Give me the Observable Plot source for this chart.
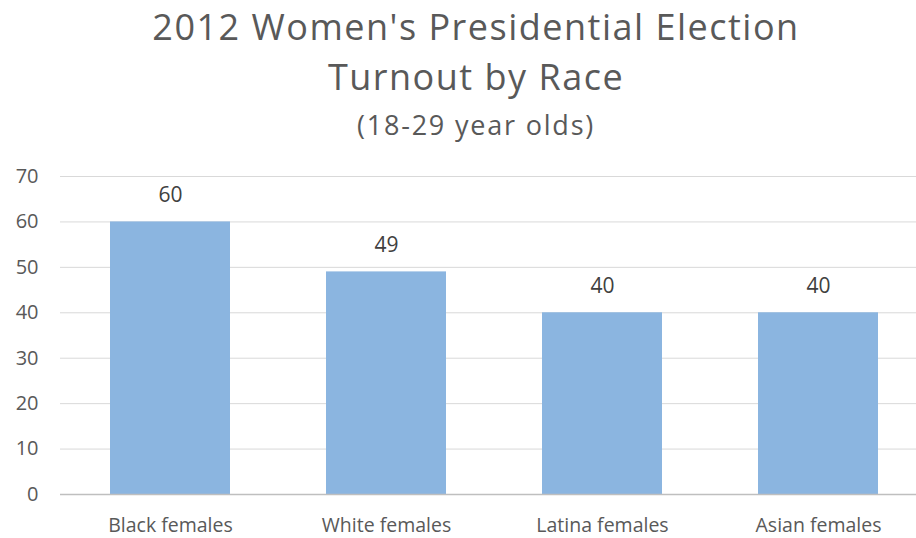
<!DOCTYPE html>
<html>
<head>
<meta charset="utf-8">
<script src="https://cdn.jsdelivr.net/npm/d3@7"></script>
<script src="https://cdn.jsdelivr.net/npm/@observablehq/plot@0.6"></script>
<style>
  html, body { margin: 0; padding: 0; background: #fff; }
  body { width: 916px; height: 538px; overflow: hidden; font-family: "Open Sans", sans-serif; }
  #title { text-align: center; color: #595959; font-size: 36px; line-height: 50px; padding-top: 2px; padding-left: 36px; letter-spacing: 1.5px; }
  #subtitle { text-align: center; color: #595959; font-size: 27px; line-height: 46px; margin-top: 0px; padding-left: 36px; letter-spacing: 1.8px; }
  #chart { position: absolute; top: 155px; left: 0; }
</style>
</head>
<body>
<div id="title">2012 Women's Presidential Election<br>Turnout by Race</div>
<div id="subtitle">(18-29 year olds)</div>
<div id="chart"></div>
<script>
const categories = ["Black females", "White females", "Latina females", "Asian females"];
const turnout = [60, 49, 40, 40];
const yTicks = [0, 10, 20, 30, 40, 50, 60, 70];

const data = categories.map((c, i) => ({category: c, value: turnout[i]}));

const chart = Plot.plot({
  width: 916,
  height: 383,
  marginLeft: 60,
  marginRight: 0,
  marginTop: 21,
  marginBottom: 44,
  style: {fontFamily: "'Open Sans', sans-serif", color: "#595959", background: "#fff"},
  x: {domain: categories, range: [61, 926], paddingInner: 0.445, paddingOuter: 0.2225, label: null, tickSize: 0},
  y: {domain: [0, 70], ticks: yTicks, label: null, tickSize: 0},
  marks: [
    Plot.gridY(yTicks.filter(d => d > 0), {stroke: "#d9d9d9", strokeOpacity: 1, strokeWidth: 1}),
    Plot.barY(data, {x: "category", y: "value", fill: "#8bb5e0"}),
    Plot.ruleY([0], {stroke: "#bfbfbf", strokeWidth: 1.5}),
    Plot.text(data, {x: "category", y: "value", text: d => String(d.value), dy: -27, fill: "#404040", fontSize: 21, letterSpacing: 0.5}),
    Plot.axisY({ticks: yTicks, tickSize: 0, tickPadding: 22, fontSize: 20, fill: "#595959", label: null}),
    Plot.axisX({tickSize: 0, tickPadding: 24, fontSize: 19.5, fill: "#595959", label: null, style: {letterSpacing: "0.9px"}})
  ]
});
document.getElementById("chart").appendChild(chart);
</script>
</body>
</html>
